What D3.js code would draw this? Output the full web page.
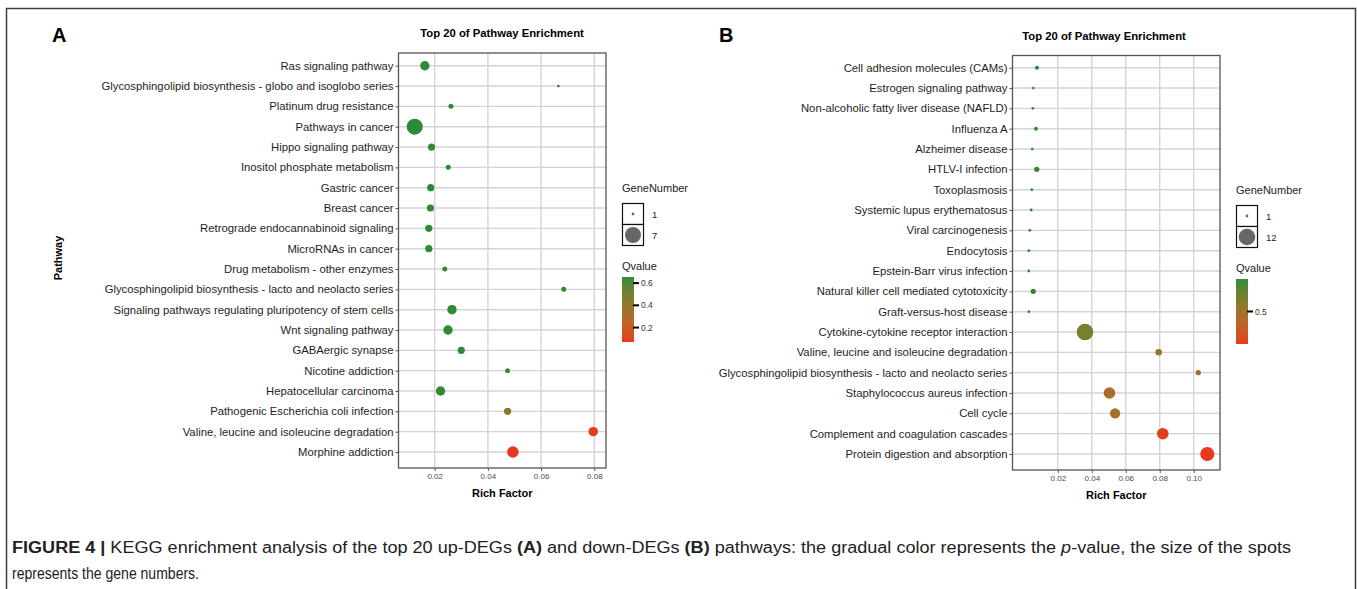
<!DOCTYPE html>
<html>
<head>
<meta charset="utf-8">
<script src="https://cdn.jsdelivr.net/npm/d3@7"></script>
<style>
  body { margin: 0; background: #fff; }
  text { font-family: "Liberation Sans", Arial, Helvetica, sans-serif; }
</style>
</head>
<body>
<script>
// ---- panel A data (up-DEGs) ----
const pathwaysA = [
  "Ras signaling pathway",
  "Glycosphingolipid biosynthesis - globo and isoglobo series",
  "Platinum drug resistance",
  "Pathways in cancer",
  "Hippo signaling pathway",
  "Inositol phosphate metabolism",
  "Gastric cancer",
  "Breast cancer",
  "Retrograde endocannabinoid signaling",
  "MicroRNAs in cancer",
  "Drug metabolism - other enzymes",
  "Glycosphingolipid biosynthesis - lacto and neolacto series",
  "Signaling pathways regulating pluripotency of stem cells",
  "Wnt signaling pathway",
  "GABAergic synapse",
  "Nicotine addiction",
  "Hepatocellular carcinoma",
  "Pathogenic Escherichia coli infection",
  "Valine, leucine and isoleucine degradation",
  "Morphine addiction"
];
const richA  = [0.0163, 0.0665, 0.0261, 0.0125, 0.0188, 0.0251, 0.0185, 0.0184, 0.0178, 0.0178,
                0.0238, 0.0685, 0.0265, 0.0250, 0.0300, 0.0474, 0.0222, 0.0474, 0.0796, 0.0494];
const genesA = [4, 1, 2, 7, 3, 2, 3, 3, 3, 3, 2, 2, 4, 4, 3, 2, 4, 3, 4, 5];
const qvalA  = [0.655, 0.655, 0.655, 0.655, 0.655, 0.655, 0.655, 0.655, 0.655, 0.655,
                0.655, 0.655, 0.655, 0.655, 0.655, 0.655, 0.655, 0.45, 0.07, 0.07];
const xTicksA = [0.02, 0.04, 0.06, 0.08];
const qTicksA = [0.2, 0.4, 0.6];
const geneBreaksA = [1, 7];

// ---- panel B data (down-DEGs) ----
const pathwaysB = [
  "Cell adhesion molecules (CAMs)",
  "Estrogen signaling pathway",
  "Non-alcoholic fatty liver disease (NAFLD)",
  "Influenza A",
  "Alzheimer disease",
  "HTLV-I infection",
  "Toxoplasmosis",
  "Systemic lupus erythematosus",
  "Viral carcinogenesis",
  "Endocytosis",
  "Epstein-Barr virus infection",
  "Natural killer cell mediated cytotoxicity",
  "Graft-versus-host disease",
  "Cytokine-cytokine receptor interaction",
  "Valine, leucine and isoleucine degradation",
  "Glycosphingolipid biosynthesis - lacto and neolacto series",
  "Staphylococcus aureus infection",
  "Cell cycle",
  "Complement and coagulation cascades",
  "Protein digestion and absorption"
];
const richB  = [0.0077, 0.0055, 0.0053, 0.0071, 0.0049, 0.0076, 0.0047, 0.0043, 0.0035, 0.0029,
                0.0029, 0.0055, 0.0029, 0.0360, 0.0794, 0.1027, 0.0504, 0.0537, 0.0818, 0.1080];
const genesB = [2, 1, 1, 2, 1, 3, 1, 1, 1, 1, 1, 3, 1, 12, 4, 3, 8, 7, 8, 10];
const qvalB  = [0.73, 0.73, 0.73, 0.73, 0.73, 0.73, 0.73, 0.73, 0.73, 0.73,
                0.73, 0.73, 0.73, 0.60, 0.52, 0.50, 0.47, 0.48, 0.28, 0.27];
const xTicksB = [0.02, 0.04, 0.06, 0.08, 0.10];
const qTicksB = [0.5];
const geneBreaksB = [1, 12];

const lowColor = "#e8381f", highColor = "#2f8a37";

const svg = d3.select("body").append("svg")
    .attr("width", 1357)
    .attr("height", 589);

// figure frame
svg.append("rect")
    .attr("x", 6.5).attr("y", 8.5)
    .attr("width", 1349).attr("height", 620)
    .attr("fill", "none")
    .attr("stroke", "#3c3c3c")
    .attr("stroke-width", 1.5);

function drawPanel(p) {
    const g = svg.append("g");

    const x = d3.scaleLinear().domain(p.xDomain).range([p.left, p.right]);
    const y = d3.scalePoint().domain(p.pathways).range([p.rowTop, p.rowBottom]);
    const r = d3.scaleLinear().domain([1, d3.max(p.genes)]).range([1.4, p.rMax]);
    const color = d3.scaleLinear().domain(p.qDomain)
        .range([lowColor, highColor]).interpolate(d3.interpolateLab);

    // grid lines
    g.selectAll(".hgrid").data(p.pathways).join("line")
        .attr("x1", p.left).attr("x2", p.right)
        .attr("y1", d => y(d)).attr("y2", d => y(d))
        .attr("stroke", "#d4d4d4").attr("stroke-width", 1.4);
    g.selectAll(".vgrid").data(p.xTicks).join("line")
        .attr("x1", d => x(d)).attr("x2", d => x(d))
        .attr("y1", p.top).attr("y2", p.bottom)
        .attr("stroke", "#d4d4d4").attr("stroke-width", 1.4);

    // axes
    const xAxis = g.append("g")
        .attr("transform", "translate(0," + p.bottom + ")")
        .call(d3.axisBottom(x).tickValues(p.xTicks).tickFormat(d3.format(".2f")).tickSize(3).tickPadding(2));
    xAxis.select(".domain").remove();
    xAxis.selectAll("line").attr("stroke", "#555");
    xAxis.selectAll("text").attr("font-size", 8).attr("fill", "#4a4a4a")
        .style("font-family", "'Liberation Sans', Arial, sans-serif");

    const yAxis = g.append("g")
        .attr("transform", "translate(" + p.left + ",0)")
        .call(d3.axisLeft(y).tickSize(3).tickPadding(2));
    yAxis.select(".domain").remove();
    yAxis.selectAll("line").attr("stroke", "#555");
    yAxis.selectAll("text").attr("font-size", 11.3).attr("fill", "#1e1e1e")
        .style("font-family", "'Liberation Sans', Arial, sans-serif");

    // points
    g.selectAll(".dot").data(p.pathways).join("circle")
        .attr("cx", (d, i) => x(p.rich[i]))
        .attr("cy", d => y(d))
        .attr("r", (d, i) => r(p.genes[i]))
        .attr("fill", (d, i) => color(p.qval[i]));

    // panel border
    g.append("rect")
        .attr("x", p.left).attr("y", p.top)
        .attr("width", p.right - p.left).attr("height", p.bottom - p.top)
        .attr("fill", "none").attr("stroke", "#555").attr("stroke-width", 1.3);

    // texts
    g.append("text").attr("x", p.letterX).attr("y", 42)
        .attr("font-size", 20).attr("font-weight", "bold").text(p.letter);
    g.append("text").attr("x", p.titleX).attr("y", p.top - 16)
        .attr("text-anchor", "middle").attr("font-size", 11.3).attr("font-weight", "bold")
        .text("Top 20 of Pathway Enrichment");
    g.append("text").attr("x", (p.left + p.right) / 2).attr("y", p.bottom + 29)
        .attr("text-anchor", "middle").attr("font-size", 11).attr("font-weight", "bold")
        .text("Rich Factor");

    // legend: GeneNumber
    const lx = p.legendX, ly = p.legendY;
    g.append("text").attr("x", lx).attr("y", ly).attr("font-size", 11).attr("fill", "#222")
        .text("GeneNumber");
    p.geneBreaks.forEach((b, i) => {
        const by = ly + 11 + i * 21;
        g.append("rect").attr("x", lx + 0.5).attr("y", by + 0.5)
            .attr("width", 21).attr("height", 21)
            .attr("fill", "#fff").attr("stroke", "#111").attr("stroke-width", 1.2);
        g.append("circle").attr("cx", lx + 11).attr("cy", by + 11)
            .attr("r", r(b)).attr("fill", "#666");
        g.append("text").attr("x", lx + 30).attr("y", by + 14.5)
            .attr("font-size", 9.5).attr("fill", "#222").text(b);
    });

    // legend: Qvalue colour bar
    const qy = ly + 78;
    g.append("text").attr("x", lx).attr("y", qy).attr("font-size", 11).attr("fill", "#222")
        .text("Qvalue");
    const barTop = qy + 7, barBottom = qy + 72, barW = 12;
    const grad = svg.append("defs").append("linearGradient")
        .attr("id", "qgrad" + p.letter)
        .attr("x1", "0%").attr("y1", "100%").attr("x2", "0%").attr("y2", "0%");
    grad.selectAll("stop").data(d3.range(0, 1.0001, 0.1)).join("stop")
        .attr("offset", d => Math.round(d * 100) + "%")
        .attr("stop-color", d => color(p.qDomain[0] + d * (p.qDomain[1] - p.qDomain[0])));
    g.append("rect").attr("x", lx).attr("y", barTop)
        .attr("width", barW).attr("height", barBottom - barTop)
        .attr("fill", "url(#qgrad" + p.letter + ")");
    const qs = d3.scaleLinear().domain(p.qDomain).range([barBottom, barTop]);
    p.qTicks.forEach(t => {
        g.append("line").attr("x1", lx + barW - 1).attr("x2", lx + barW + 5)
            .attr("y1", qs(t)).attr("y2", qs(t))
            .attr("stroke", "#000").attr("stroke-width", 2);
        g.append("text").attr("x", lx + barW + 7).attr("y", qs(t) + 3)
            .attr("font-size", 8.5).attr("fill", "#333").text(t);
    });
}

drawPanel({
    letter: "A", letterX: 52, titleX: 502,
    pathways: pathwaysA, rich: richA, genes: genesA, qval: qvalA,
    xTicks: xTicksA, qTicks: qTicksA, geneBreaks: geneBreaksA,
    xDomain: [0.0064, 0.0844], qDomain: [0.07, 0.655], rMax: 8,
    left: 398.5, right: 606, top: 53, bottom: 468,
    rowTop: 65.7, rowBottom: 452,
    legendX: 622, legendY: 192
});

drawPanel({
    letter: "B", letterX: 719, titleX: 1104,
    pathways: pathwaysB, rich: richB, genes: genesB, qval: qvalB,
    xTicks: xTicksB, qTicks: qTicksB, geneBreaks: geneBreaksB,
    xDomain: [-0.0067, 0.1155], qDomain: [0.27, 0.73], rMax: 8.3,
    left: 1012.5, right: 1220, top: 55.5, bottom: 470,
    rowTop: 67.7, rowBottom: 454,
    legendX: 1236, legendY: 194
});

// y axis title (panel A only)
svg.append("text")
    .attr("transform", "translate(62,258) rotate(-90)")
    .attr("text-anchor", "middle").attr("font-size", 11).attr("font-weight", "bold")
    .text("Pathway");

// caption
const cap1 = svg.append("text").attr("x", 12).attr("y", 553)
    .attr("font-size", 16).attr("fill", "#222");
cap1.append("tspan").attr("font-weight", "bold").text("FIGURE 4 | ");
cap1.append("tspan").text("KEGG enrichment analysis of the top 20 up-DEGs ");
cap1.append("tspan").attr("font-weight", "bold").text("(A)");
cap1.append("tspan").text(" and down-DEGs ");
cap1.append("tspan").attr("font-weight", "bold").text("(B)");
cap1.append("tspan").text(" pathways: the gradual color represents the ");
cap1.append("tspan").attr("font-style", "italic").text("p");
cap1.append("tspan").text("-value, the size of the spots");
cap1.attr("textLength", 1279).attr("lengthAdjust", "spacingAndGlyphs");

svg.append("text").attr("x", 12).attr("y", 579)
    .attr("font-size", 16).attr("fill", "#222")
    .attr("textLength", 187).attr("lengthAdjust", "spacingAndGlyphs")
    .text("represents the gene numbers.");
</script>
</body>
</html>
